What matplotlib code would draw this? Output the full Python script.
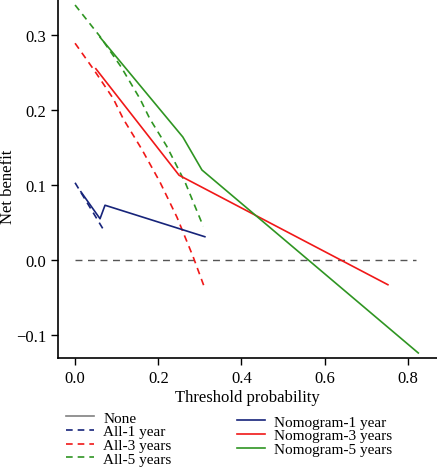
import matplotlib
matplotlib.use("Agg")
import matplotlib.pyplot as plt
from matplotlib.lines import Line2D

plt.rcParams['font.family'] = ['Liberation Serif', 'DejaVu Serif']

# decision curves
none_x = [0.0, 0.82]
none_y = [0.0, 0.0]

all1_x = [0.0, 0.072]
all1_y = [0.103, 0.037]

all3_x = [0.0, 0.046, 0.092, 0.116, 0.160, 0.204, 0.245, 0.284, 0.31]
all3_y = [0.289, 0.253, 0.215, 0.188, 0.148, 0.104, 0.057, 0.004, -0.035]

all5_x = [0.0, 0.06, 0.11, 0.156, 0.18, 0.22, 0.265, 0.308]
all5_y = [0.340, 0.298, 0.258, 0.215, 0.188, 0.152, 0.103, 0.045]

nomo1_x = [0.014, 0.06, 0.072, 0.312]
nomo1_y = [0.091, 0.055, 0.073, 0.031]

nomo3_x = [0.05, 0.25, 0.752]
nomo3_y = [0.255, 0.113, -0.033]

nomo5_x = [0.06, 0.259, 0.305, 0.825]
nomo5_y = [0.297, 0.164, 0.12, -0.124]

navy = '#17247a'
red = '#f01818'
green = '#2f9522'
gray = '#555555'


def fmt(v, pos):
    return f'{v:.1f}'.replace('-', '\u2212')


fig = plt.figure(figsize=(4.37, 4.77), dpi=100)
ax = fig.add_axes([58 / 437, 1 - 359 / 477, 1 - 58 / 437, 359 / 477])

dash = (0, (4, 3))
lw = 1.2
ax.plot(none_x, none_y, color=gray, lw=1.0, linestyle=(0, (5, 4)))
ax.plot(all1_x, all1_y, color=navy, lw=lw, linestyle=dash)
ax.plot(all3_x, all3_y, color=red, lw=lw, linestyle=dash)
ax.plot(all5_x, all5_y, color=green, lw=lw, linestyle=dash)
ax.plot(nomo1_x, nomo1_y, color=navy, lw=lw)
ax.plot(nomo3_x, nomo3_y, color=red, lw=lw)
ax.plot(nomo5_x, nomo5_y, color=green, lw=lw)

ax.set_xlim(-0.041, 0.87)
ax.set_ylim(-0.1307, 0.348)
ax.set_xticks([0.0, 0.2, 0.4, 0.6, 0.8])
ax.set_yticks([-0.1, 0.0, 0.1, 0.2, 0.3])
ax.xaxis.set_major_formatter(plt.FuncFormatter(fmt))
ax.yaxis.set_major_formatter(plt.FuncFormatter(fmt))
ax.spines['top'].set_visible(False)
ax.spines['right'].set_visible(False)
for s in ('left', 'bottom'):
    ax.spines[s].set_linewidth(1.2)
ax.tick_params(direction='out', length=5, width=1, labelsize=12)
ax.set_xlabel('Threshold probability', fontsize=12, labelpad=2)
ax.set_ylabel('Net benefit', fontsize=12)
ax.yaxis.set_label_coords(-0.112, 0.48)

left_handles = [
    Line2D([], [], color='#808080', lw=1.2),
    Line2D([], [], color=navy, lw=1.2, linestyle=dash),
    Line2D([], [], color=red, lw=1.2, linestyle=dash),
    Line2D([], [], color=green, lw=1.2, linestyle=dash),
]
left_labels = ['None', 'All-1 year', 'All-3 years', 'All-5 years']
right_handles = [
    Line2D([], [], color=navy, lw=1.2),
    Line2D([], [], color=red, lw=1.2),
    Line2D([], [], color=green, lw=1.2),
]
right_labels = ['Nomogram-1 year', 'Nomogram-3 years', 'Nomogram-5 years']

leg_kw = dict(frameon=False, fontsize=11, labelspacing=0.0, handlelength=1.8,
              handletextpad=0.65, borderpad=0, borderaxespad=0)
fig.legend(left_handles, left_labels, loc='upper left',
           bbox_to_anchor=(66 / 437, 1 - 412 / 477), **leg_kw)
fig.legend(right_handles, right_labels, loc='upper left',
           bbox_to_anchor=(237 / 437, 1 - 416 / 477), **leg_kw)

fig.savefig('out.png', dpi=100)
